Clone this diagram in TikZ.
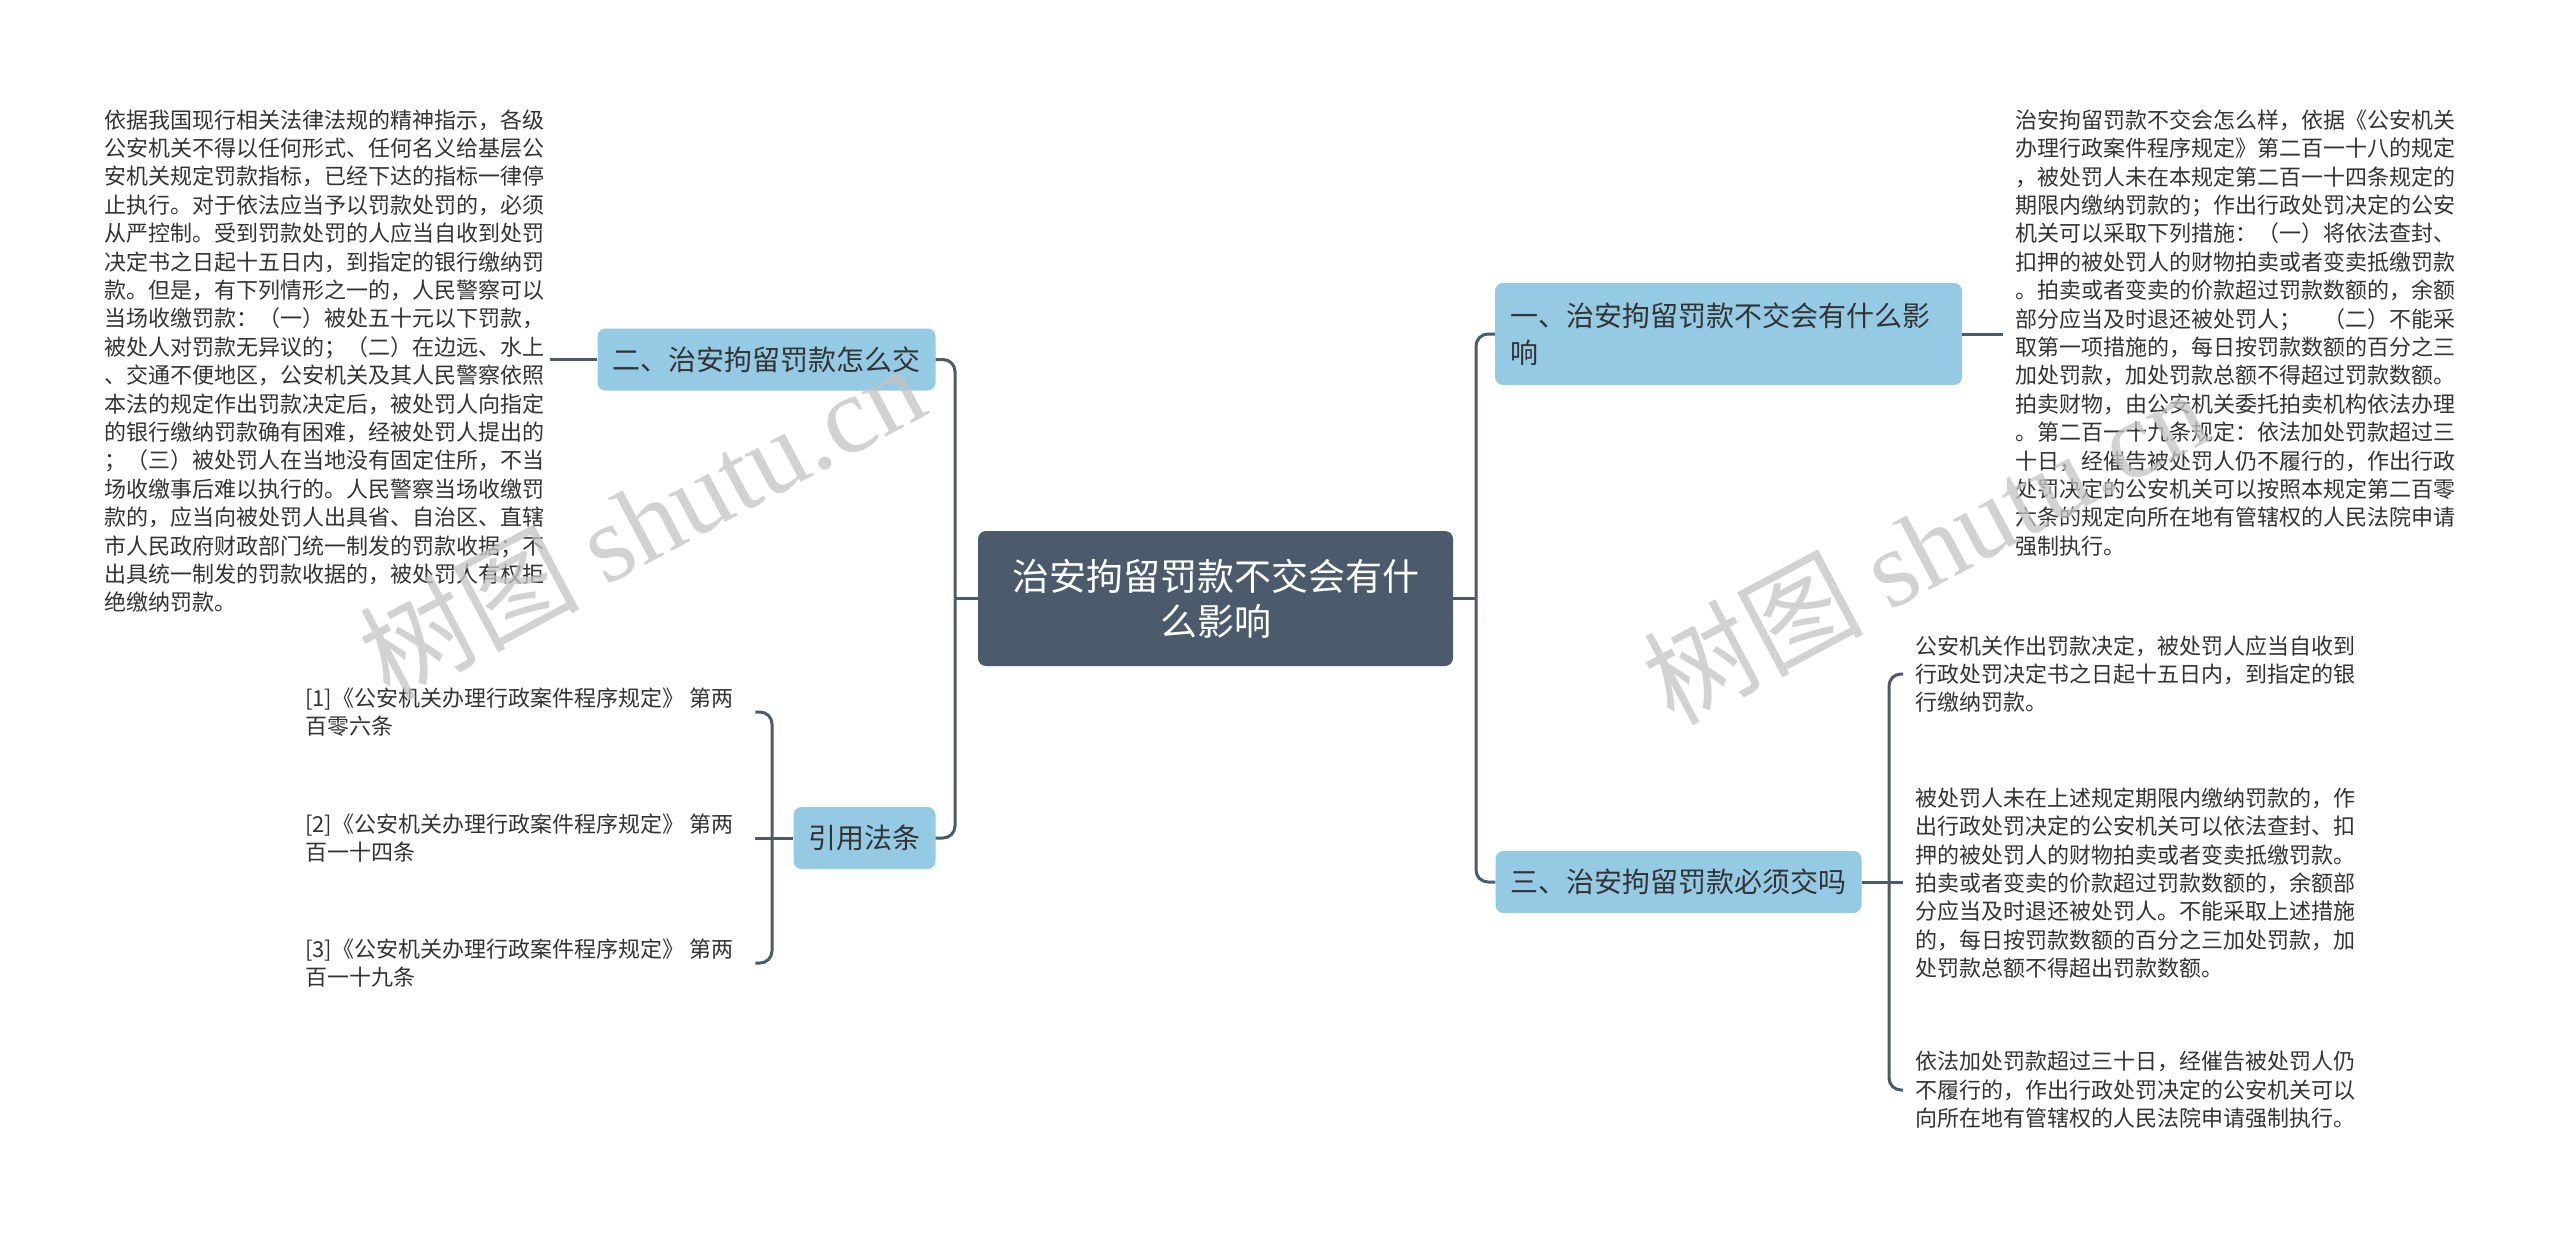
\documentclass[tikz,border=0pt]{standalone}
\usepackage{fontspec}
\setmainfont{Noto Sans CJK SC}
\newfontfamily\wmlatin{Liberation Serif}
\definecolor{dark}{HTML}{4B5B6B}
\definecolor{lblue}{HTML}{94CAE3}
\definecolor{txt}{HTML}{333333}
\definecolor{wmgray}{HTML}{C4C4C4}
\begin{document}
\begin{tikzpicture}[x=1pt,y=-1pt,
  conn/.style={draw=dark,line width=3pt,rounded corners=12pt},
  rootbox/.style={fill=dark,rounded corners=8pt,text=white,font=\fontsize{37}{45}\selectfont,align=center,minimum width=475pt,minimum height=135pt,inner sep=0pt},
  branch/.style={fill=lblue,rounded corners=8pt,text=txt,font=\fontsize{28}{37}\selectfont,align=left,inner xsep=15pt,inner ysep=0pt,minimum height=62pt},
  body/.style={text=txt,font=\fontsize{22}{28.4}\selectfont,align=left,inner ysep=0pt},
  wm/.style={text=wmgray,opacity=0.75,font=\fontsize{110}{110}\selectfont,inner sep=0pt}]

\fill[white] (0,0) rectangle (2560,1240);
\useasboundingbox (0,0) rectangle (2560,1240);

% central and branch nodes
\node[rootbox] (root) at (1215.5,598.5) {治安拘留罚款不交会有什\\么影响};
\node[branch,text width=437pt,minimum height=102pt] (b1) at (1728.5,334) {一、治安拘留罚款不交会有什么影\\响};
\node[branch] (b2) at (766.5,359.5) {二、治安拘留罚款怎么交};
\node[branch] (b3) at (1678.5,882) {三、治安拘留罚款必须交吗};
\node[branch] (b4) at (864.5,838) {引用法条};

% text blocks
\node[body,anchor=west,inner xsep=6pt] (t2) at (98,361) {依据我国现行相关法律法规的精神指示，各级\\公安机关不得以任何形式、任何名义给基层公\\安机关规定罚款指标，已经下达的指标一律停\\止执行。对于依法应当予以罚款处罚的，必须\\从严控制。受到罚款处罚的人应当自收到处罚\\决定书之日起十五日内，到指定的银行缴纳罚\\款。但是，有下列情形之一的，人民警察可以\\当场收缴罚款：（一）被处五十元以下罚款，\\被处人对罚款无异议的；（二）在边远、水上\\、交通不便地区，公安机关及其人民警察依照\\本法的规定作出罚款决定后，被处罚人向指定\\的银行缴纳罚款确有困难，经被处罚人提出的\\；（三）被处罚人在当地没有固定住所，不当\\场收缴事后难以执行的。人民警察当场收缴罚\\款的，应当向被处罚人出具省、自治区、直辖\\市人民政府财政部门统一制发的罚款收据；不\\出具统一制发的罚款收据的，被处罚人有权拒\\绝缴纳罚款。};

\node[body,anchor=west,inner xsep=12pt] (t1) at (2003,333) {治安拘留罚款不交会怎么样，依据《公安机关\\办理行政案件程序规定》第二百一十八的规定\\，被处罚人未在本规定第二百一十四条规定的\\期限内缴纳罚款的；作出行政处罚决定的公安\\机关可以采取下列措施：（一）将依法查封、\\扣押的被处罚人的财物拍卖或者变卖抵缴罚款\\。拍卖或者变卖的价款超过罚款数额的，余额\\部分应当及时退还被处罚人；　（二）不能采\\取第一项措施的，每日按罚款数额的百分之三\\加处罚款，加处罚款总额不得超过罚款数额。\\拍卖财物，由公安机关委托拍卖机构依法办理\\。第二百一十九条规定：依法加处罚款超过三\\十日，经催告被处罚人仍不履行的，作出行政\\处罚决定的公安机关可以按照本规定第二百零\\六条的规定向所在地有管辖权的人民法院申请\\强制执行。};

\node[body,anchor=west,inner xsep=12pt] (t3a) at (1903,674) {公安机关作出罚款决定，被处罚人应当自收到\\行政处罚决定书之日起十五日内，到指定的银\\行缴纳罚款。};
\node[body,anchor=west,inner xsep=12pt] (t3b) at (1903,883) {被处罚人未在上述规定期限内缴纳罚款的，作\\出行政处罚决定的公安机关可以依法查封、扣\\押的被处罚人的财物拍卖或者变卖抵缴罚款。\\拍卖或者变卖的价款超过罚款数额的，余额部\\分应当及时退还被处罚人。不能采取上述措施\\的，每日按罚款数额的百分之三加处罚款，加\\处罚款总额不得超出罚款数额。};
\node[body,anchor=west,inner xsep=12pt] (t3c) at (1903,1090) {依法加处罚款超过三十日，经催告被处罚人仍\\不履行的，作出行政处罚决定的公安机关可以\\向所在地有管辖权的人民法院申请强制执行。};

\node[body,anchor=west,inner xsep=22pt] (r1) at (283,712) {[1]《公安机关办理行政案件程序规定》 第两\\百零六条};
\node[body,anchor=west,inner xsep=22pt] (r2) at (283,838) {[2]《公安机关办理行政案件程序规定》 第两\\百一十四条};
\node[body,anchor=west,inner xsep=22pt] (r3) at (283,963) {[3]《公安机关办理行政案件程序规定》 第两\\百一十九条};

% junction coordinates
\coordinate (LT) at (955,598.5);
\coordinate (RT) at (1476,598.5);
\coordinate (S3) at (1889,882);
\coordinate (R4) at (772,838);

% connectors
\draw[conn] (root.west) -- (LT);
\draw[conn] (b2.east) -| (LT);
\draw[conn] (b4.east) -| (LT);
\draw[conn] (root.east) -- (RT);
\draw[conn] (b1.west) -| (RT);
\draw[conn] (b3.west) -| (RT);

\draw[conn] (b2.west) -- (t2.east |- b2.west);
\draw[conn] (b1.east) -- (t1.west |- b1.east);

\draw[conn] (b3.east) -- (S3);
\draw[conn] (S3) |- (t3a.west);
\draw[conn] (S3) -- (t3b.west |- S3);
\draw[conn] (S3) |- (t3c.west);

\draw[conn] (b4.west) -- (R4);
\draw[conn] (R4) |- (r1.east);
\draw[conn] (R4) -- (r2.east |- R4);
\draw[conn] (R4) |- (r3.east);

% watermarks
\node[wm,rotate=28] (wm1) at (641,520) {树图 {\wmlatin shutu.cn}};
\node[wm,rotate=28] (wm2) at (1925,545) {树图 {\wmlatin shutu.cn}};
\end{tikzpicture}
\end{document}
